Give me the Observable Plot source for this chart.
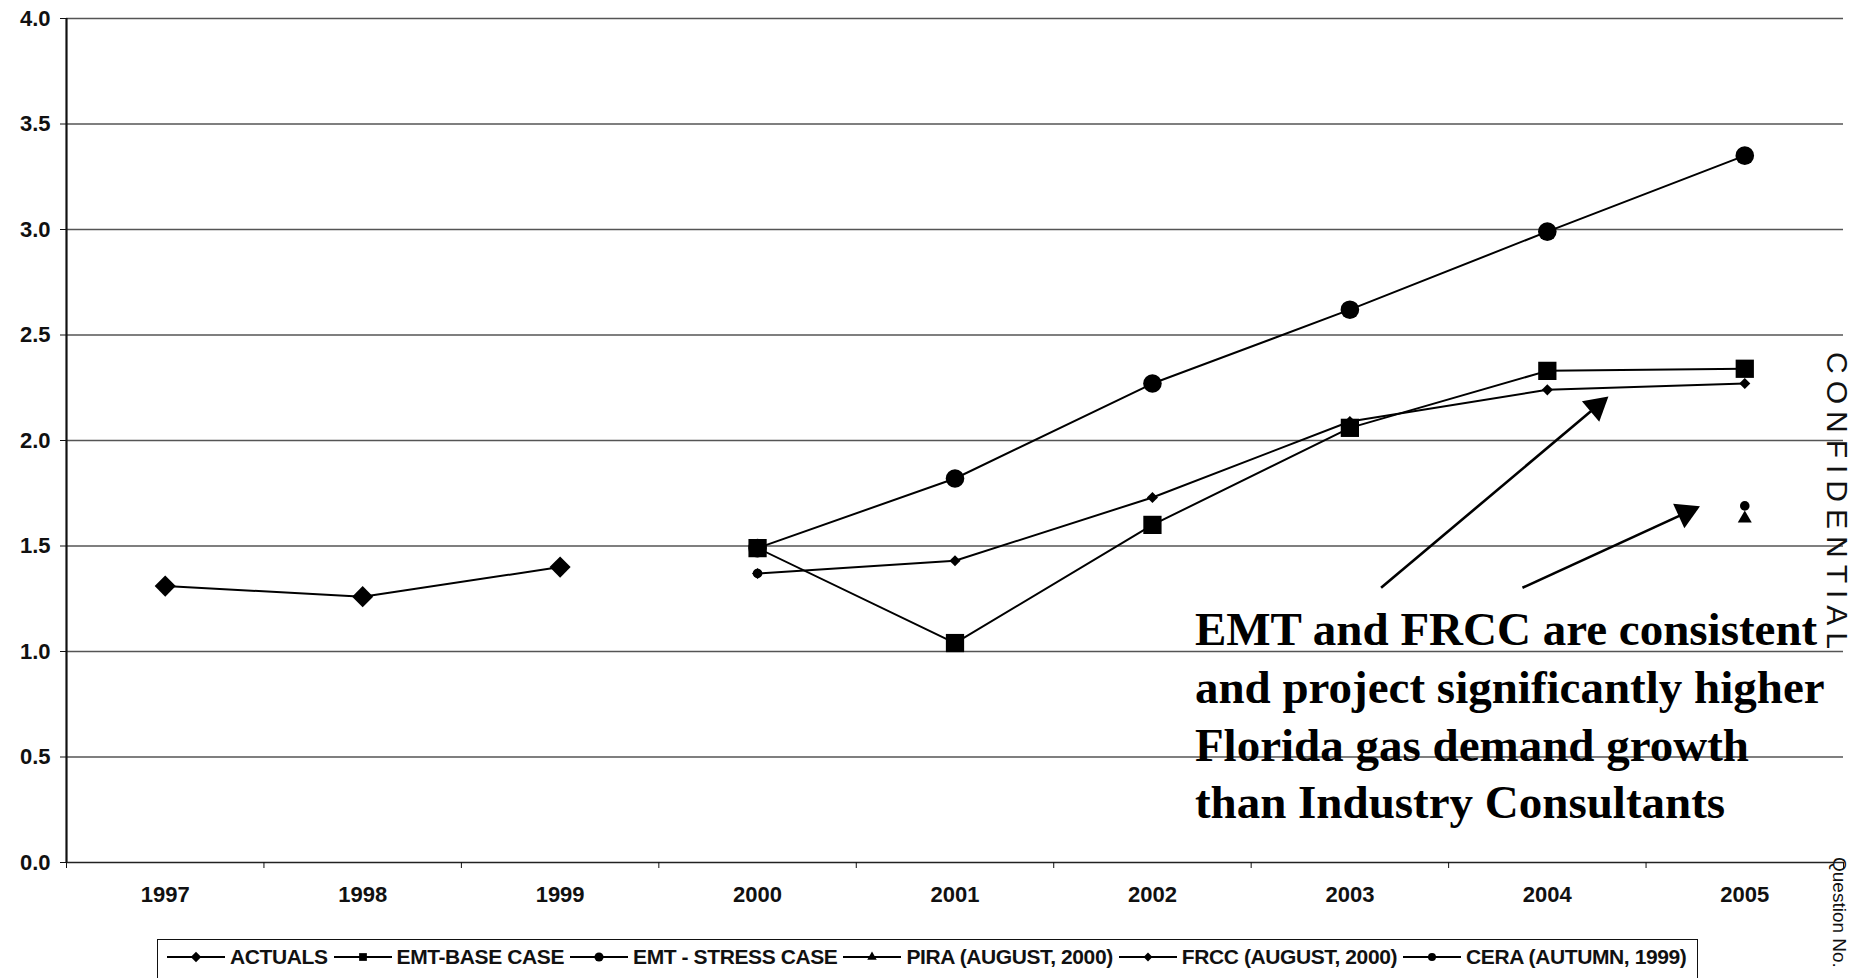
<!DOCTYPE html>
<html>
<head>
<meta charset="utf-8">
<script src="https://cdn.jsdelivr.net/npm/d3@7"></script>
<script src="https://cdn.jsdelivr.net/npm/@observablehq/plot@0.6"></script>
<style>
  html, body { margin: 0; padding: 0; background: #fff; overflow: hidden; }
  #wrap { position: relative; width: 1853px; height: 978px; overflow: hidden; }
  #chart svg { display: block; }
  g[aria-label="y-axis tick label"] text,
  g[aria-label="x-axis tick label"] text { font-weight: bold; }
  #legend {
    position: absolute; left: 157px; top: 939px; width: 1541px; height: 70px;
    border: 1.5px solid #111; box-sizing: border-box;
    display: flex; align-items: flex-start; padding: 5px 0 0 9px;
    font-family: "Liberation Sans", Arial, sans-serif; font-size: 21px; font-weight: bold;
    color: #111; letter-spacing: -0.4px;
  }
  .item { display: flex; align-items: center; margin-right: 6px; white-space: nowrap; }
  .item svg { margin-right: 5px; }
  .side {
    position: absolute; font-family: "Liberation Sans", Arial, sans-serif;
    transform-origin: 0 0; transform: rotate(90deg); white-space: nowrap; color: #111;
  }
</style>
</head>
<body>
<div id="wrap">
  <div id="chart"></div>
  <div id="legend"></div>
  <div class="side" id="stamp" style="left:1852px; top:352px; font-size:30px; line-height:30px; letter-spacing:7px;"></div>
  <div class="side" id="qno" style="left:1849px; top:857px; font-size:19px; line-height:19px;"></div>
</div>
<script>
// Florida gas demand outlook (Bcf/d) by year
const years = [1997, 1998, 1999, 2000, 2001, 2002, 2003, 2004, 2005];
const yTicks = [0, 0.5, 1, 1.5, 2, 2.5, 3, 3.5, 4];

const actuals = [1.31, 1.26, 1.40, null, null, null, null, null, null];
const emtBase = [null, null, null, 1.49, 1.04, 1.60, 2.06, 2.33, 2.34];
const emtStress = [null, null, null, 1.49, 1.82, 2.27, 2.62, 2.99, 3.35];
const pira = [null, null, null, null, null, null, null, null, 1.63];
const frcc = [null, null, null, 1.37, 1.43, 1.73, 2.09, 2.24, 2.27];
const cera = [null, null, null, 1.37, null, null, null, null, 1.69];

const seriesNames = ["ACTUALS", "EMT-BASE CASE", "EMT - STRESS CASE",
  "PIRA (AUGUST, 2000)", "FRCC (AUGUST, 2000)", "CERA (AUTUMN, 1999)"];

const noteLines = [
  "EMT and FRCC are consistent",
  "and project significantly higher",
  "Florida gas demand growth",
  "than Industry Consultants"
];

// callout arrows (year, value) from tail to tip
const arrows = [
  {x1: 2003.158, y1: 1.302, x2: 2004.296, y2: 2.198},
  {x1: 2003.874, y1: 1.302, x2: 2004.757, y2: 1.681}
];

const stampText = "CONFIDENTIAL";
const questionText = "Question No.";

// ---- layout ----
const W = 1853, H = 920, ML = 66, MR = 10, MT = 18, MB = 58;
const xDomain = [1996.5, 2005.5];
const boundaries = d3.range(1996.5, 2006, 1);

const series = [
  {values: actuals,   symbol: "diamond2", r: 9.5},
  {values: emtBase,   symbol: "square",   r: 10.3},
  {values: emtStress, symbol: "circle",   r: 9.3},
  {values: pira,      symbol: "triangle", r: 5.2},
  {values: frcc,      symbol: "diamond2", r: 5.0},
  {values: cera,      symbol: "circle",   r: 4.8}
].map((s, i) => ({...s, name: seriesNames[i],
  rows: years.map((yr, j) => ({year: yr, value: s.values[j]}))}));

// arrowheads: filled triangles placed just behind each tip
const xs = d3.scaleLinear(xDomain, [ML, W - MR]);
const ys = d3.scaleLinear([0, 4], [H - MB, MT]);
const HEAD_R = 10;
const HEAD_K = 1.209 * HEAD_R; // centroid-to-tip distance of the triangle symbol
const heads = arrows.map(a => {
  const px1 = xs(a.x1), py1 = ys(a.y1), px2 = xs(a.x2), py2 = ys(a.y2);
  const len = Math.hypot(px2 - px1, py2 - py1);
  const ux = (px2 - px1) / len, uy = (py2 - py1) / len;
  return {
    x: xs.invert(px2 - ux * HEAD_K),
    y: ys.invert(py2 - uy * HEAD_K),
    angle: Math.atan2(ux, -uy) * 180 / Math.PI
  };
});

const NOTE_SIZE = 47;

const marks = [
  Plot.ruleY(yTicks.filter(d => d > 0), {stroke: "#555", strokeWidth: 1.4}),
  Plot.ruleY([0], {stroke: "#222", strokeWidth: 1.6}),
  Plot.ruleX([xDomain[0]], {stroke: "#111", strokeWidth: 2.2}),
  Plot.axisY({ticks: yTicks, tickSize: 6, tickPadding: 10, tickFormat: d => d.toFixed(1),
    fontSize: 22, fontWeight: "bold", label: null}),
  Plot.axisX({ticks: boundaries, tickSize: 6, tickFormat: () => "", label: null}),
  Plot.axisX({ticks: years, tickSize: 0, tickPadding: 24, tickFormat: d => String(d),
    fontSize: 22, fontWeight: "bold", label: null})
];

for (const s of series) {
  marks.push(Plot.line(s.rows, {x: "year", y: "value", stroke: "#000", strokeWidth: 2}));
  marks.push(Plot.dot(s.rows.filter(d => d.value != null),
    {x: "year", y: "value", symbol: s.symbol, r: s.r, fill: "#000", stroke: "none"}));
}

marks.push(
  Plot.text([{x: 2002.215, y: 0.21, text: noteLines.join("\n")}], {
    x: "x", y: "y", text: "text", lineAnchor: "bottom", textAnchor: "start",
    lineHeight: 57.7 / NOTE_SIZE, fontSize: NOTE_SIZE, fontWeight: "bold",
    fontFamily: '"Liberation Serif", "Times New Roman", serif', fill: "#000"
  }),
  Plot.link(arrows, {x1: "x1", y1: "y1", x2: (d, i) => heads[i].x, y2: (d, i) => heads[i].y,
    stroke: "#000", strokeWidth: 2.6}),
  Plot.dot(heads, {x: "x", y: "y", symbol: "triangle", r: HEAD_R, rotate: "angle",
    fill: "#000", stroke: "none"})
);

const chart = Plot.plot({
  width: W, height: H,
  marginLeft: ML, marginRight: MR, marginTop: MT, marginBottom: MB,
  style: {fontFamily: '"Liberation Sans", Arial, sans-serif', background: "white", color: "#111"},
  x: {domain: xDomain},
  y: {domain: [0, 4]},
  marks
});
document.getElementById("chart").append(chart);

// ---- legend ----
const symbolTypes = {
  diamond2: d3.symbolDiamond2, square: d3.symbolSquare,
  circle: d3.symbolCircle, triangle: d3.symbolTriangle2
};
const legendSizes = [70, 60, 65, 65, 50, 50];
const legend = d3.select("#legend");
series.forEach((s, i) => {
  const item = legend.append("div").attr("class", "item");
  const sw = item.append("svg").attr("width", 58).attr("height", 20);
  sw.append("line").attr("x1", 0).attr("x2", 58).attr("y1", 10).attr("y2", 10)
    .attr("stroke", "#000").attr("stroke-width", 2);
  sw.append("path").attr("transform", "translate(29,10)")
    .attr("d", d3.symbol(symbolTypes[s.symbol], legendSizes[i])()).attr("fill", "#000");
  item.append("span").text(s.name);
});

document.getElementById("stamp").textContent = stampText;
document.getElementById("qno").textContent = questionText;
</script>
</body>
</html>
